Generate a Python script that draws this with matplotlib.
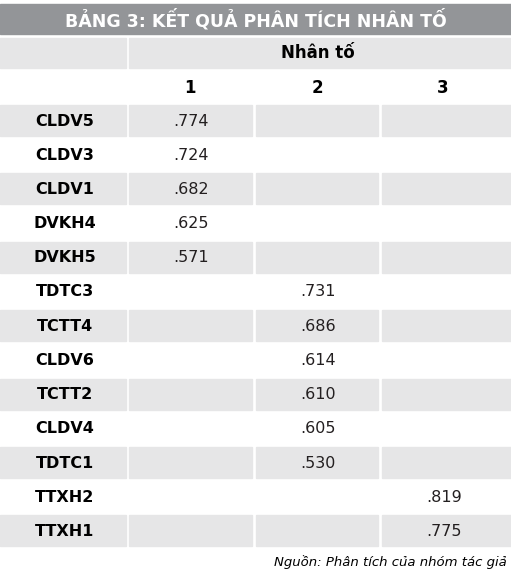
import matplotlib
matplotlib.use("Agg")
import matplotlib.pyplot as plt
from matplotlib.patches import Rectangle

title = "BẢNG 3: KẾT QUẢ PHÂN TÍCH NHÂN TỐ"
header = "Nhân tố"
factors = ["1", "2", "3"]
items = ["CLDV5", "CLDV3", "CLDV1", "DVKH4", "DVKH5", "TDTC3", "TCTT4",
         "CLDV6", "TCTT2", "CLDV4", "TDTC1", "TTXH2", "TTXH1"]
loading_factor = [1, 1, 1, 1, 1, 2, 2, 2, 2, 2, 2, 3, 3]
loadings = [".774", ".724", ".682", ".625", ".571", ".731", ".686",
            ".614", ".610", ".605", ".530", ".819", ".775"]
source = "Nguồn: Phân tích của nhóm tác giả"

fam = ["Liberation Sans Narrow", "DejaVu Sans"]
W, H = 511, 572
fig = plt.figure(figsize=(W/100, H/100), dpi=100)
ax = fig.add_axes([0, 0, 1, 1])
ax.set_xlim(0, W); ax.set_ylim(H, 0); ax.axis("off")

light = "#e6e6e7"
ax.add_patch(Rectangle((0, 4), W, 30, color="#939598"))
ax.text(W/2, 19.5, title, ha="center", va="center", color="white", fontsize=12.5,
        fontweight="bold", family=fam)
ax.add_patch(Rectangle((0, 38), 126, 30, color=light))
ax.add_patch(Rectangle((129, 38), W-129, 30, color=light))
ax.text(318, 53, header, ha="center", va="center", fontsize=12, fontweight="bold", family=fam)
cols = [(129, 252), (256, 378), (382, 511)]
for (a, b), f in zip(cols, factors):
    ax.text(a + 61, 88, f, ha="center", va="center", fontsize=12, fontweight="bold", family=fam)

y0, pitch = 105, 34.2
for i, (it, fi, v) in enumerate(zip(items, loading_factor, loadings)):
    y = y0 + i*pitch
    if i % 2 == 0:
        ax.add_patch(Rectangle((0, y), 126, 31, color=light))
        for a, b in cols:
            ax.add_patch(Rectangle((a, y), b-a, 31, color=light))
    ax.text(65, y+16, it, ha="center", va="center", fontsize=11.5, fontweight="bold", family=fam)
    a = cols[fi-1][0]
    ax.text(a + 44, y+16, v, ha="left", va="center", fontsize=11.5, family=fam, color="#231f20")

ax.text(507, 562, source, ha="right", va="center", fontsize=9.5, style="italic", family=fam)
fig.savefig("out.png", dpi=100)
